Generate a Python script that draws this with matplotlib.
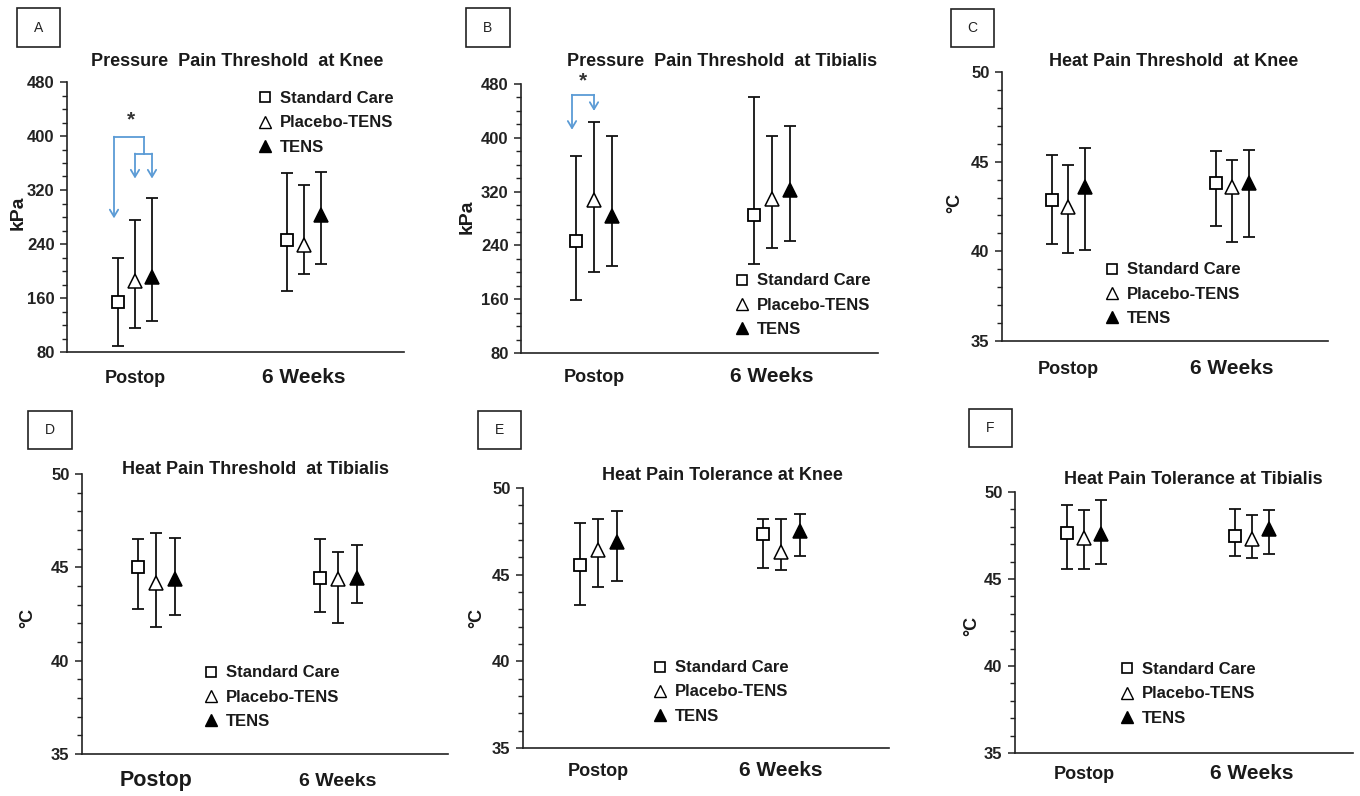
import matplotlib
matplotlib.use("Agg")
import matplotlib.pyplot as plt
import matplotlib.transforms as mtransforms
from matplotlib.patches import Rectangle
from matplotlib.lines import Line2D
from matplotlib.ticker import MultipleLocator

plt.rcParams['font.family'] = ['Liberation Sans', 'DejaVu Sans']

# ---------------- data ----------------
groups = ['Postop', '6 Weeks']
series = ['Standard Care', 'Placebo-TENS', 'TENS']

# rows: Standard Care, Placebo-TENS, TENS ; columns: Postop, 6 Weeks
ppt_knee_mean = [[154, 246], [185, 239], [191, 283]]
ppt_knee_low = [[89, 170], [115, 196], [126, 211]]
ppt_knee_high = [[220, 345], [275, 328], [308, 347]]

ppt_tib_mean = [[246, 285], [308, 309], [283, 322]]
ppt_tib_low = [[159, 212], [201, 236], [210, 247]]
ppt_tib_high = [[373, 460], [423, 402], [402, 418]]

hpth_knee_mean = [[42.85, 43.82], [42.48, 43.60], [43.60, 43.82]]
hpth_knee_low = [[40.42, 41.40], [39.92, 40.50], [40.10, 40.81]]
hpth_knee_high = [[45.36, 45.60], [44.80, 45.08], [45.78, 45.67]]

hpth_tib_mean = [[45.04, 44.45], [44.18, 44.40], [44.40, 44.45]]
hpth_tib_low = [[42.79, 42.60], [41.82, 42.03], [42.45, 43.07]]
hpth_tib_high = [[46.50, 46.50], [46.83, 45.80], [46.58, 46.19]]

hptol_knee_mean = [[45.55, 47.34], [46.43, 46.32], [46.91, 47.53]]
hptol_knee_low = [[43.25, 45.41], [44.29, 45.26], [44.64, 46.09]]
hptol_knee_high = [[47.97, 48.24], [48.24, 48.24], [48.65, 48.50]]

hptol_tib_mean = [[47.66, 47.47], [47.37, 47.28], [47.60, 47.85]]
hptol_tib_low = [[45.55, 46.32], [45.55, 46.22], [45.84, 46.41]]
hptol_tib_high = [[49.23, 49.04], [48.97, 48.66], [49.54, 48.97]]

titles = ['Pressure  Pain Threshold  at Knee',
          'Pressure  Pain Threshold  at Tibialis',
          'Heat Pain Threshold  at Knee',
          'Heat Pain Threshold  at Tibialis',
          'Heat Pain Tolerance at Knee',
          'Heat Pain Tolerance at Tibialis']
panel_letters = ['A', 'B', 'C', 'D', 'E', 'F']
ylabels = ['kPa', 'kPa', '°C', '°C', '°C', '°C']

# significance annotation levels (kPa)
sigA_bar, sigA_tip_sc, sigA_sub, sigA_tip_sub, sigA_star = 399, 278, 374, 337, 424
sigB_bar, sigB_tip_sc, sigB_tip_pt, sigB_star = 464, 412, 440, 485

# ---------------- layout (pixels) ----------------
W, H = 1360, 796
fig = plt.figure(figsize=(W / 100, H / 100), dpi=100)

def fx(px):
    return px / W

def fy(py):
    return 1 - py / H

layout = [
    # left, right, top, bottom, g1, g2, offset
    dict(l=67, r=404, t=82, b=352, g1=135, g2=304, off=17),
    dict(l=521, r=878, t=84, b=353, g1=594, g2=772, off=18),
    dict(l=1002, r=1328, t=72, b=341, g1=1068, g2=1232, off=16.5),
    dict(l=82, r=448, t=474, b=754, g1=156, g2=338, off=18.5),
    dict(l=523, r=889, t=488, b=748, g1=598, g2=781, off=18.5),
    dict(l=1015, r=1353, t=492, b=753, g1=1084, g2=1252, off=17),
]
title_pos = [(237, 62), (722, 62), (1174, 62), (256, 469), (722, 476), (1193, 480)]
ylabel_pos = [(18, 213), (467, 217), (955, 203), (28, 618), (477, 618), (972, 626)]
box_pos = [(17, 8, 60, 47), (466, 8, 510, 47), (951, 9, 994, 47),
           (28, 411, 72, 449), (478, 411, 521, 449), (969, 409, 1012, 447)]
legend_pos = [(265, 123), (742, 305), (1112, 294), (211, 697), (660, 692), (1127, 694)]
cat_baseline = [383, 382, 374, 786, 776, 779]
cat_sizes = [(13, 15), (13, 15), (13, 15), (15.5, 14), (13, 15), (13, 15)]

data = [
    (ppt_knee_mean, ppt_knee_low, ppt_knee_high, (80, 480), 80, 20),
    (ppt_tib_mean, ppt_tib_low, ppt_tib_high, (80, 480), 80, 20),
    (hpth_knee_mean, hpth_knee_low, hpth_knee_high, (35, 50), 5, 1),
    (hpth_tib_mean, hpth_tib_low, hpth_tib_high, (35, 50), 5, 1),
    (hptol_knee_mean, hptol_knee_low, hptol_knee_high, (35, 50), 5, 1),
    (hptol_tib_mean, hptol_tib_low, hptol_tib_high, (35, 50), 5, 1),
]

marker_styles = [
    dict(marker='s', mfc='white', mec='black', ms=8, mew=1.3),
    dict(marker='^', mfc='white', mec='black', ms=10.5, mew=1.1),
    dict(marker='^', mfc='black', mec='black', ms=10.5, mew=1.1),
]
legend_styles = [
    dict(marker='s', mfc='white', mec='black', ms=7, mew=1.2),
    dict(marker='^', mfc='white', mec='black', ms=8, mew=1.0),
    dict(marker='^', mfc='black', mec='black', ms=8, mew=1.0),
]
blue = '#5B9BD5'
axes = []
for i, (lay, (mean, low, high, ylim, major, minor)) in enumerate(zip(layout, data)):
    ax = fig.add_axes([fx(lay['l']), fy(lay['b']), fx(lay['r'] - lay['l']),
                       (lay['b'] - lay['t']) / H])
    axes.append(ax)
    scale = lay['g2'] - lay['g1']
    ax.set_xlim(1 - (lay['g1'] - lay['l']) / scale, 2 + (lay['r'] - lay['g2']) / scale)
    ax.set_ylim(*ylim)
    off = lay['off'] / scale
    for s in range(3):
        xs = [g + (s - 1) * off for g in (1, 2)]
        m = mean[s]
        yerr = [[m[k] - low[s][k] for k in range(2)], [high[s][k] - m[k] for k in range(2)]]
        ax.errorbar(xs, m, yerr=yerr, fmt='none', ecolor='#111111', elinewidth=1.3,
                    capsize=4, capthick=1.3, zorder=2)
        ax.plot(xs, m, linestyle='none', zorder=3, **marker_styles[s])
    for side in ('top', 'right'):
        ax.spines[side].set_visible(False)
    for side in ('left', 'bottom'):
        ax.spines[side].set_linewidth(1.2)
        ax.spines[side].set_color('#222222')
    ax.yaxis.set_major_locator(MultipleLocator(major))
    ax.yaxis.set_minor_locator(MultipleLocator(minor))
    ax.tick_params(axis='y', which='major', direction='out', length=5, width=1.1,
                   labelsize=12, pad=4, colors='#222222')
    ax.tick_params(axis='y', which='minor', direction='out', length=3.5, width=1.0,
                   colors='#222222')
    for lbl in ax.get_yticklabels():
        lbl.set_fontweight('bold')
    ax.set_xticks([])
    ax.patch.set_alpha(0)

    trans = mtransforms.blended_transform_factory(ax.transData, fig.transFigure)
    for g, name in enumerate(groups):
        ax.text(g + 1, fy(cat_baseline[i]), name, transform=trans, ha='center',
                va='baseline', fontsize=cat_sizes[i][g], fontweight='bold',
                color='#1a1a1a', clip_on=False)

    # title
    tx, ty = title_pos[i]
    fig.text(fx(tx), fy(ty), titles[i], ha='center', va='center', fontsize=13,
             fontweight='bold', color='#1a1a1a')
    # y label
    lx, ly = ylabel_pos[i]
    fig.text(fx(lx), fy(ly), ylabels[i], ha='center', va='center', rotation=90,
             fontsize=14 if ylabels[i] == 'kPa' else 13, fontweight='bold',
             color='#1a1a1a')
    # panel letter box
    x0, y0, x1, y1 = box_pos[i]
    fig.patches.append(Rectangle((fx(x0), fy(y1)), fx(x1 - x0), (y1 - y0) / H,
                                 transform=fig.transFigure, fill=False,
                                 edgecolor='#222222', lw=1.2))
    fig.text(fx((x0 + x1) / 2), fy((y0 + y1) / 2), panel_letters[i], ha='center',
             va='center', fontsize=10, color='#222222')
    # legend
    handles = [Line2D([], [], linestyle='none', **legend_styles[s]) for s in range(3)]
    mx, my = legend_pos[i]
    leg = fig.legend(handles, series, loc='center left',
                     bbox_to_anchor=(fx(mx - 5), fy(my)), frameon=False,
                     handlelength=0.6, handletextpad=0.6, labelspacing=0.55,
                     borderpad=0, borderaxespad=0,
                     prop=dict(size=12, weight='bold'))
    for t in leg.get_texts():
        t.set_color('#1a1a1a')

# ---------------- significance annotations ----------------
def arrow(ax, x, y0, y1):
    ax.annotate('', xy=(x, y1), xytext=(x, y0),
                arrowprops=dict(arrowstyle='->,head_length=0.5,head_width=0.3',
                                color=blue, lw=1.3, shrinkA=0, shrinkB=0),
                annotation_clip=False)

axA = axes[0]
sA = layout[0]['g2'] - layout[0]['g1']
oA = layout[0]['off'] / sA
x_sc = 1 - oA - 4 / sA
x_pt = 1.0
x_te = 1 + oA
x_mid = (x_pt + x_te) / 2 + 0.5 / sA
axA.plot([x_sc, x_mid], [sigA_bar, sigA_bar], color=blue, lw=1.3, clip_on=False)
arrow(axA, x_sc, sigA_bar, sigA_tip_sc)
axA.plot([x_mid, x_mid], [sigA_bar, sigA_sub], color=blue, lw=1.3, clip_on=False)
axA.plot([x_pt, x_te], [sigA_sub, sigA_sub], color=blue, lw=1.3, clip_on=False)
arrow(axA, x_pt, sigA_sub, sigA_tip_sub)
arrow(axA, x_te, sigA_sub, sigA_tip_sub)
axA.text((x_sc + x_mid) / 2 + 2 / sA, sigA_star, '*', ha='center', va='center',
         fontsize=15, fontweight='bold', color='#333333')

axB = axes[1]
sB = layout[1]['g2'] - layout[1]['g1']
oB = layout[1]['off'] / sB
xb_sc = 1 - oB - 4 / sB
xb_pt = 1.0
axB.plot([xb_sc, xb_pt], [sigB_bar, sigB_bar], color=blue, lw=1.3, clip_on=False)
arrow(axB, xb_sc, sigB_bar, sigB_tip_sc)
arrow(axB, xb_pt, sigB_bar, sigB_tip_pt)
axB.text((xb_sc + xb_pt) / 2, sigB_star, '*', ha='center', va='center',
         fontsize=15, fontweight='bold', color='#333333', clip_on=False)

fig.savefig('out.png', dpi=100)
